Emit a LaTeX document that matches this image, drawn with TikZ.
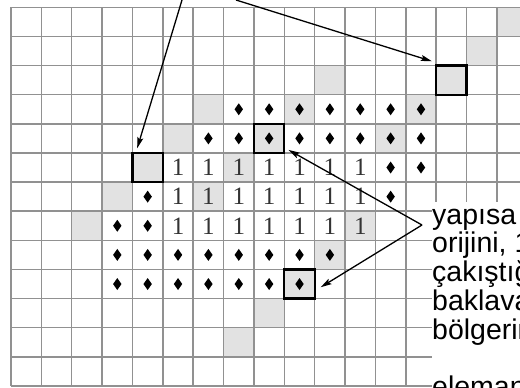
\documentclass[tikz,border=0pt]{standalone}
\usepackage{fontspec}
\setmainfont{Liberation Serif}
\newfontfamily\lblfont{Liberation Sans}
\usetikzlibrary{arrows.meta}
\definecolor{gridgray}{RGB}{145,145,145}
\definecolor{cellgray}{RGB}{226,226,226}
\tikzset{
  gridline/.style={draw=gridgray,line width=1.5pt},
  markbox/.style={draw=black,line width=2.3pt,fill=cellgray,minimum width=30.37pt,minimum height=29.13pt,inner sep=0pt,outer sep=0pt},
  onecell/.style={font=\fontsize{25}{25}\selectfont,text=black!80,inner sep=0pt},
  lbl/.style={font=\lblfont\fontsize{28.5}{29}\selectfont,anchor=base west,inner sep=0pt},
  pointer/.style={-{Stealth[length=11pt,width=6pt,inset=2pt]},line width=1.3pt}
}
\begin{document}
\begin{tikzpicture}
\useasboundingbox (0pt,0pt) rectangle (520pt,-388pt);
\clip (0pt,0pt) rectangle (520pt,-388pt);
\fill[white] (0pt,0pt) rectangle (520pt,-388pt);
\begin{scope}[x=30.37pt,y=-29.13pt,shift={(11pt,-7.3pt)}]
  \foreach \c/\r in {16/0,15/1,10/2,6/3,9/3,13/3,5/4,12/4,7/5,3/6,6/6,2/7,11/7,10/8,8/10,7/11}
    \fill[cellgray] (\c,\r) rectangle (\c+1,\r+1);
  \foreach \c in {0,...,17} \draw[gridline] (\c,0) -- (\c,13);
  \foreach \r in {0,...,13} \draw[gridline] (0,\r) -- (17,\r);
  \node[markbox] (b1) at (4.5,5.5) {};
  \node[markbox] (b2) at (14.5,2.5) {};
  \node[markbox] (b3) at (8.5,4.5) {};
  \node[markbox] (b4) at (9.5,9.5) {};
  \foreach \r/\a/\b in {3/7/13,4/6/13,8/3/10,9/3/9}
    \foreach \c in {\a,...,\b}
      \fill (\c+.5,\r+.5) +(0pt,6pt) -- +(4.2pt,0pt) -- +(0pt,-6pt) -- +(-4.2pt,0pt) -- cycle;
  \foreach \c/\r in {12/5,13/5,4/6,12/6,3/7,4/7}
    \fill (\c+.5,\r+.5) +(0pt,6pt) -- +(4.2pt,0pt) -- +(0pt,-6pt) -- +(-4.2pt,0pt) -- cycle;
  \foreach \r in {5,6,7}
    \foreach \c in {5,...,11}
      \node[onecell] (one-\c-\r) at (\c+.5,\r+.5) {1};
\end{scope}
\fill[white] (432pt,-202pt) rectangle (521pt,-389pt);
\node[lbl] (t1) at (432pt,-224pt) {yapısa};
\node[lbl] (t2) at (432pt,-252.5pt) {orijini, 1};
\node[lbl] (t3) at (432pt,-281pt) {çakıştığ};
\node[lbl] (t4) at (432pt,-310pt) {baklava};
\node[lbl] (t5) at (432pt,-339pt) {bölgerin};
\node[lbl] (t6) at (432pt,-396pt) {eleman};
\coordinate (s1) at (182pt,0pt);
\coordinate (s2) at (236pt,0pt);
\coordinate (v) at (422pt,-225pt);
\draw[pointer] (s1) -- ([shift={(4.7pt,4.7pt)}]b1.north west);
\draw[pointer] (s2) -- ([shift={(-4.3pt,4.3pt)}]b2.north west);
\draw[pointer] (v) -- ([shift={(4.3pt,3pt)}]b3.south east);
\draw[pointer] (v) -- ([shift={(6pt,-3.2pt)}]b4.east);
\end{tikzpicture}
\end{document}
